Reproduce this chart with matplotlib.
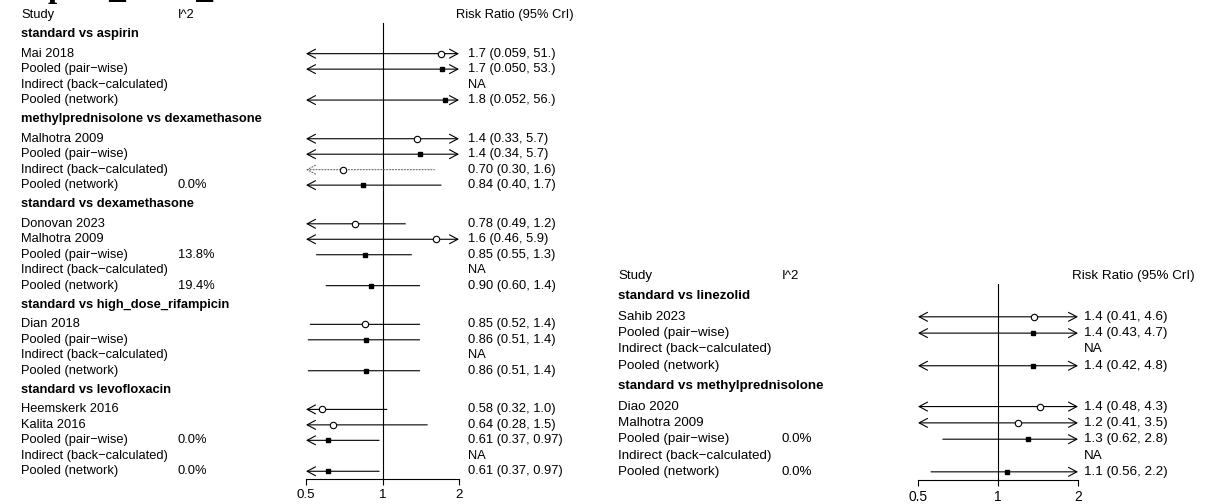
import matplotlib
matplotlib.use("Agg")
import matplotlib.pyplot as plt
from matplotlib.ticker import FixedLocator, FixedFormatter, NullLocator
from matplotlib.transforms import blended_transform_factory

W, H = 1205, 504
PW = "Pooled (pair\u2212wise)"
IND = "Indirect (back\u2212calculated)"
NET = "Pooled (network)"

# ---- left forest plot ----
left_groups = ["standard vs aspirin",
               "methylprednisolone vs dexamethasone",
               "standard vs dexamethasone",
               "standard vs high_dose_rifampicin",
               "standard vs levofloxacin"]
left_studies = [["Mai 2018", PW, IND, NET],
                ["Malhotra 2009", PW, IND, NET],
                ["Donovan 2023", "Malhotra 2009", PW, IND, NET],
                ["Dian 2018", PW, IND, NET],
                ["Heemskerk 2016", "Kalita 2016", PW, IND, NET]]
left_est = [[1.7, 1.72, None, 1.76],
            [1.37, 1.4, 0.70, 0.84],
            [0.78, 1.63, 0.85, None, 0.90],
            [0.85, 0.86, None, 0.86],
            [0.58, 0.64, 0.61, None, 0.61]]
left_lo = [[0.059, 0.050, None, 0.052],
           [0.33, 0.34, 0.30, 0.40],
           [0.49, 0.46, 0.55, None, 0.60],
           [0.52, 0.51, None, 0.51],
           [0.32, 0.28, 0.37, None, 0.37]]
left_hi = [[51.0, 53.0, None, 56.0],
           [5.7, 5.7, 1.6, 1.7],
           [1.23, 5.9, 1.3, None, 1.4],
           [1.4, 1.4, None, 1.4],
           [1.04, 1.5, 0.97, None, 0.97]]
left_i2 = [["", "", "", ""],
           ["", "", "", "0.0%"],
           ["", "", "13.8%", "", "19.4%"],
           ["", "", "", ""],
           ["", "", "0.0%", "", "0.0%"]]

# ---- right forest plot ----
right_groups = ["standard vs linezolid",
                "standard vs methylprednisolone"]
right_studies = [["Sahib 2023", PW, IND, NET],
                 ["Diao 2020", "Malhotra 2009", PW, IND, NET]]
right_est = [[1.37, 1.35, None, 1.36],
             [1.44, 1.19, 1.3, None, 1.08]]
right_lo = [[0.41, 0.43, None, 0.42],
            [0.48, 0.41, 0.62, None, 0.56]]
right_hi = [[4.6, 4.7, None, 4.8],
            [4.3, 3.5, 2.8, None, 2.2]]
right_i2 = [["", "", "", ""],
            ["", "", "0.0%", "", "0.0%"]]

x_ticks = [0.5, 1, 2]
x_tick_labels = ["0.5", "1", "2"]

plt.rcParams['font.family'] = ['Liberation Sans', 'DejaVu Sans']


def fmt(v):
    return f"{v:#.2g}"


def draw_panel(fig, box, cols, fs, groups, studies, est, lo, hi, i2):
    # box: (left px, right px, top px, bottom px) of the plotting strip
    left, right, top, bottom = box
    x_study, x_i2, x_est, x_head = cols

    # row layout in "line" units
    ys_head = []
    ys_rows = []
    y = 0.0
    for g in studies:
        y += 1.25
        ys_head.append(y)
        y += 1.25
        rows = []
        for _ in g:
            rows.append(y)
            y += 1
        ys_rows.append(rows)
        y -= 1
    y_axis = y + 0.5

    ax = fig.add_axes([left / W, 1 - bottom / H, (right - left) / W, (bottom - top) / H])
    ax.set_xscale('log')
    ax.set_xlim(0.5, 2)
    ax.set_ylim(y_axis, 0)
    for s in ['top', 'left', 'right']:
        ax.spines[s].set_visible(False)
    ax.spines['bottom'].set_linewidth(0.8)
    ax.yaxis.set_visible(False)
    ax.xaxis.set_major_locator(FixedLocator(x_ticks))
    ax.xaxis.set_major_formatter(FixedFormatter(x_tick_labels))
    ax.xaxis.set_minor_locator(NullLocator())
    ax.tick_params(axis='x', direction='out', length=4.5, width=0.8,
                   pad=2.5, labelsize=fs + 0.3)
    ax.patch.set_alpha(0)

    ax.plot([1, 1], [0.5, y_axis], color='black', lw=0.8, clip_on=False)

    tr = blended_transform_factory(fig.transFigure, ax.transData)

    ax.text(x_study / W, 0, "Study", transform=tr, fontsize=fs, va='center')
    ax.text(x_i2 / W, 0, "I^2", transform=tr, fontsize=fs, va='center')
    ax.text(x_head / W, 0, "Risk Ratio (95% CrI)", transform=tr,
            fontsize=fs, va='center', ha='right')

    for gi, name in enumerate(groups):
        ax.text(x_study / W, ys_head[gi], name, transform=tr, fontsize=fs,
                fontweight='bold', va='center')
        for ri, lab in enumerate(studies[gi]):
            yy = ys_rows[gi][ri]
            ax.text(x_study / W, yy, lab, transform=tr, fontsize=fs, va='center')
            if i2[gi][ri]:
                ax.text(x_i2 / W, yy, i2[gi][ri], transform=tr, fontsize=fs, va='center')
            e = est[gi][ri]
            if e is None:
                ax.text(x_est / W, yy, "NA", transform=tr, fontsize=fs, va='center')
                continue
            l, h = lo[gi][ri], hi[gi][ri]
            ax.text(x_est / W, yy, f"{fmt(e)} ({fmt(l)}, {fmt(h)})",
                    transform=tr, fontsize=fs, va='center')

            indirect = lab.startswith("Indirect")
            pooled = lab.startswith("Pooled")
            col = '#666666' if indirect else 'black'
            ls = ':' if indirect else '-'
            cut_l, cut_r = l < 0.5, h > 2
            style = {(False, False): '-', (True, False): '<-',
                     (False, True): '->', (True, True): '<->'}[(cut_l, cut_r)]
            ax.annotate('', xy=(min(h, 2), yy), xytext=(max(l, 0.5), yy),
                        arrowprops=dict(arrowstyle=style + ',head_length=0.6,head_width=0.32'
                                        if style != '-' else '-',
                                        color=col, lw=0.8, linestyle=ls,
                                        shrinkA=0, shrinkB=0, mutation_scale=10),
                        annotation_clip=False)
            if pooled:
                ax.plot(e, yy, marker='s', ms=3.2, color='black', mec='black',
                        ls='none', clip_on=False, zorder=4)
            else:
                ax.plot(e, yy, marker='o', ms=4.6, mfc='white', mec='black',
                        mew=0.8, ls='none', clip_on=False, zorder=4)
    return ax


fig = plt.figure(figsize=(W / 100, H / 100), dpi=100)

# clipped title fragment at the very top (only its descenders show)
fig.text(8 / W, 1 + 3.5 / H, "Impact_mort_", fontfamily='Liberation Serif',
         fontweight='bold', fontsize=24, va='baseline')

draw_panel(fig, (306, 459, 15, 479), (21, 178, 468, 574), 9.3,
           left_groups, left_studies, left_est, left_lo, left_hi, left_i2)
draw_panel(fig, (918, 1078, 276, 480), (618, 782, 1084, 1195), 9.6,
           right_groups, right_studies, right_est, right_lo, right_hi, right_i2)

fig.savefig("out.png", dpi=100)
